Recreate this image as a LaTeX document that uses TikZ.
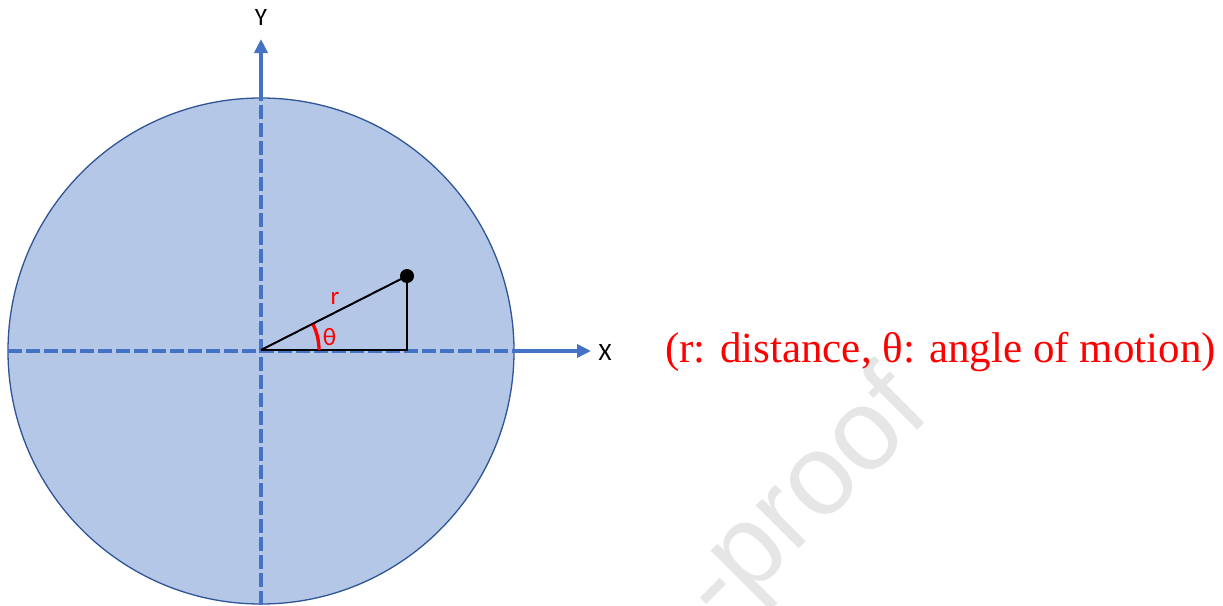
\documentclass[tikz,border=0pt]{standalone}
\usepackage{fontspec}
\setmainfont{Liberation Serif}
\newfontfamily\labelfont{Carlito}
\newfontfamily\wmfont{Liberation Sans}
\usetikzlibrary{arrows.meta}
\definecolor{axisblue}{HTML}{4472C4}
\definecolor{diskfill}{HTML}{B4C7E7}
\definecolor{diskline}{HTML}{2F5597}
\definecolor{wmgray}{HTML}{E6E6E6}
\definecolor{capred}{HTML}{FF0000}
\begin{document}
\begin{tikzpicture}[x=1pt,y=-1pt,
  axis/.style={draw=axisblue,line width=3.8pt},
  axisdash/.style={axis,dash pattern=on 14pt off 4pt},
  axisarrow/.style={axis,-{Triangle[length=14pt,width=13pt]}},
  lbl/.style={font=\labelfont\fontsize{25}{25}\selectfont,inner sep=0pt},
  tri/.style={draw=black,line width=2pt},
  wm/.style={font=\wmfont\fontsize{115}{115}\selectfont,text=wmgray,inner sep=0pt}
]
\useasboundingbox (0,0) rectangle (1223,605);
\clip (0,0) rectangle (1223,605);
% watermark
\node[wm,rotate=45,anchor=base west] (wmark) at (721,627) {-proof};
% disk
\draw[fill=diskfill,draw=diskline,line width=1.3pt] (261,351) circle[radius=253];
% axes
\coordinate (O) at (261,351);
\coordinate (ybot) at (261,605);
\coordinate (ytop) at (261,98);
\coordinate (ytip) at (261,39);
\coordinate (xleft) at (8,351);
\coordinate (xright) at (514,351);
\coordinate (xtip) at (591,351);
\draw[axisdash] (ybot) -- (ytop);
\draw[axisarrow] (ytop) -- (ytip);
\draw[axisdash] (xleft) -- (xright);
\draw[axisarrow] (xright) -- (xtip);
% triangle
\coordinate (A) at (261,350);
\coordinate (F) at (407,350);
\coordinate (P) at (407,276);
\draw[tri] (A) -- (P);
\draw[tri] (P) -- (F) -- (A);
\node[circle,fill=black,minimum size=14pt,inner sep=0pt] (dot) at (P) {};
% angle arc
\draw[capred,line width=3.3pt] (319,350) arc[start angle=0,end angle=-26,radius=58];
% labels
\node[lbl,text=capred] (rlab) at (335,298) {r};
\node[lbl,text=capred] (thlab) at (329.5,337) {θ};
\node[lbl] (ylab) at (261,17) {Y};
\node[lbl] (xlab) at (605,352) {X};
\node[font=\fontsize{43}{43}\selectfont,text=capred,inner sep=0pt,anchor=base west] (caption) at (665,362) {(r: distance, θ: angle of motion)};
\end{tikzpicture}
\end{document}
